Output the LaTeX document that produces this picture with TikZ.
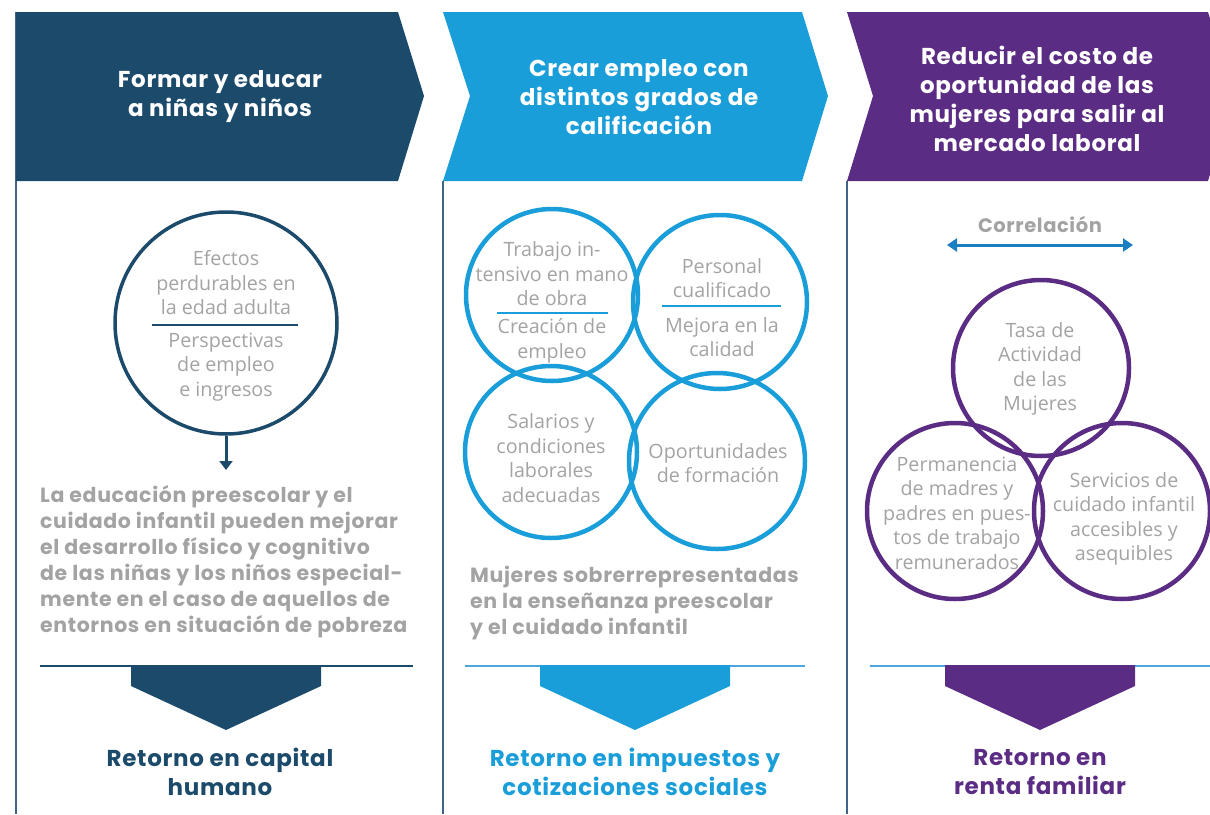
\documentclass[tikz,border=0pt]{standalone}
\usepackage{fontspec}
\setmainfont{Open Sans}
\newfontfamily\pop{Poppins}[LetterSpace=3]
\usetikzlibrary{arrows.meta}
\definecolor{navy}{HTML}{1B4A6B}
\definecolor{sky}{HTML}{1A9ED9}
\definecolor{purp}{HTML}{5B2C83}
\definecolor{txtgray}{HTML}{A3A3A3}
\definecolor{lineblue}{HTML}{4DA6DB}
\definecolor{arrowblue}{HTML}{1A7FC1}
\definecolor{vline}{HTML}{3F6485}
\begin{document}
\begin{tikzpicture}[x=1pt,y=-1pt,
  head/.style={text=white,align=center,font=\pop\bfseries\fontsize{23}{29}\selectfont,inner sep=0},
  para/.style={text=txtgray,align=left,anchor=west,font=\pop\bfseries\fontsize{20.5}{26}\selectfont,inner sep=0},
  ctext/.style={text=txtgray,align=center,font=\fontsize{19.7}{24.5}\selectfont,inner sep=0},
  ret/.style={align=center,font=\pop\bfseries\fontsize{23}{29}\selectfont,inner sep=0},
  ring/.style={circle,line width=4.5pt,inner sep=0},
  vsep/.style={draw=vline,line width=2pt}
]
\useasboundingbox (0,0) rectangle (1210,814);

% vertical separators
\coordinate (v1t) at (16,12);   \coordinate (v1b) at (16,814);
\coordinate (v2t) at (443,181); \coordinate (v2b) at (443,814);
\coordinate (v3t) at (847,181); \coordinate (v3b) at (847,814);
\draw[vsep] (v1t) -- (v1b);
\draw[vsep] (v2t) -- (v2b);
\draw[vsep] (v3t) -- (v3b);

% headers
\fill[navy] (16,12) -- (398,12) -- (424,96) -- (398,181) -- (16,181) -- cycle;
\fill[sky] (443,12) -- (802,12) -- (828,96) -- (802,181) -- (443,181) -- (470,96) -- cycle;
\fill[purp] (847,12) -- (1208,12) -- (1234,96) -- (1208,181) -- (847,181) -- (873,96) -- cycle;
\node[head] (h1) at (220,97) {Formar y educar\\a niñas y niños};
\node[head] (h2) at (639,97) {Crear empleo con\\distintos grados de\\calificación};
\node[head] (h3) at (1037,99) {Reducir el costo de\\oportunidad de las\\mujeres para salir al\\mercado laboral};

% ---------- column 1
\node[ring,draw=navy,line width=3.5pt,minimum size=222pt] (c1) at (226,323) {};
\node[ctext] (c1a) at (226,283) {Efectos\\perdurables en\\la edad adulta};
\node[ctext] (c1b) at (226,367) {Perspectivas\\de empleo\\e ingresos};
\coordinate (d1l) at (152,325); \coordinate (d1r) at (298,325);
\draw[navy,line width=2.5pt] (d1l) -- (d1r);
\coordinate (a1e) at (226,470);
\draw[navy,line width=3pt,-{Triangle[length=9pt,width=13pt]}] (c1.south) -- (a1e);
\node[para] (p1) at (40,562) {La educación preescolar y el\\cuidado infantil pueden mejorar\\el desarrollo físico y cognitivo\\de las niñas y los niños especial-\\mente en el caso de aquellos de\\entornos en situación de pobreza};
\coordinate (l1a) at (40,666); \coordinate (l1b) at (413,666);
\draw[navy,line width=2.5pt] (l1a) -- (l1b);
\fill[navy] (131,665) -- (321,665) -- (321,686) -- (226,730) -- (131,686) -- cycle;
\node[ret,text=navy] (r1) at (220,772) {Retorno en capital\\humano};

% ---------- column 2
\node[ring,draw=sky,minimum size=172pt] (c2a) at (552,295) {};
\node[ring,draw=sky,minimum size=174pt] (c2b) at (720,302) {};
\node[ring,draw=sky,minimum size=172pt] (c2c) at (551,452) {};
\node[ring,draw=sky,minimum size=176pt] (c2d) at (717,461) {};
\node[ctext] (t2a1) at (552,274) {Trabajo in-\\tensivo en mano\\de obra};
\coordinate (d2al) at (497,313); \coordinate (d2ar) at (608,313);
\draw[sky,line width=2.5pt] (d2al) -- (d2ar);
\node[ctext] (t2a2) at (552,341) {Creación de\\empleo};
\node[ctext] (t2b1) at (722,278) {Personal\\cualificado};
\coordinate (d2bl) at (662,306); \coordinate (d2br) at (781,306);
\draw[sky,line width=2.5pt] (d2bl) -- (d2br);
\node[ctext] (t2b2) at (722,337) {Mejora en la\\calidad};
\node[ctext] (t2c) at (551,458) {Salarios y\\condiciones\\laborales\\adecuadas};
\node[ctext] (t2d) at (718,463) {Oportunidades\\de formación};
\node[para] (p2) at (470,603) {Mujeres sobrerrepresentadas\\en la enseñanza preescolar\\y el cuidado infantil};
\coordinate (l2a) at (465,666); \coordinate (l2b) at (805,666);
\draw[lineblue,line width=2.5pt] (l2a) -- (l2b);
\fill[sky] (540,665) -- (730,665) -- (730,686) -- (635,730) -- (540,686) -- cycle;
\node[ret,text=sky] (r2) at (635,772) {Retorno en impuestos y\\cotizaciones sociales};

% ---------- column 3
\node[text=txtgray,font=\pop\bfseries\fontsize{19.5}{22}\selectfont,inner sep=0] (corr) at (1040,224) {Correlación};
\coordinate (cl) at (947,245); \coordinate (cr) at (1133,245);
\draw[arrowblue,line width=3pt,{Triangle[length=10pt,width=13pt]}-{Triangle[length=10pt,width=13pt]}] (cl) -- (cr);
\node[ring,draw=purp,minimum size=176pt] (c3a) at (1041,368) {};
\node[ring,draw=purp,minimum size=176pt] (c3b) at (955,511) {};
\node[ring,draw=purp,minimum size=176pt] (c3c) at (1122,511) {};
\node[ctext] (t3a) at (1040,369) {Tasa de\\Actividad\\de las\\Mujeres};
\node[ctext] (t3b) at (957,513) {Permanencia\\de madres y\\padres en pues-\\tos de trabajo\\remunerados};
\node[ctext] (t3c) at (1124,519) {Servicios de\\cuidado infantil\\accesibles y\\asequibles};
\coordinate (l3a) at (870,666); \coordinate (l3b) at (1210,666);
\draw[lineblue,line width=2.5pt] (l3a) -- (l3b);
\fill[purp] (945,665) -- (1135,665) -- (1135,686) -- (1040,730) -- (945,686) -- cycle;
\node[ret,text=purp] (r3) at (1040,772) {Retorno en\\renta familiar};
\end{tikzpicture}
\end{document}
